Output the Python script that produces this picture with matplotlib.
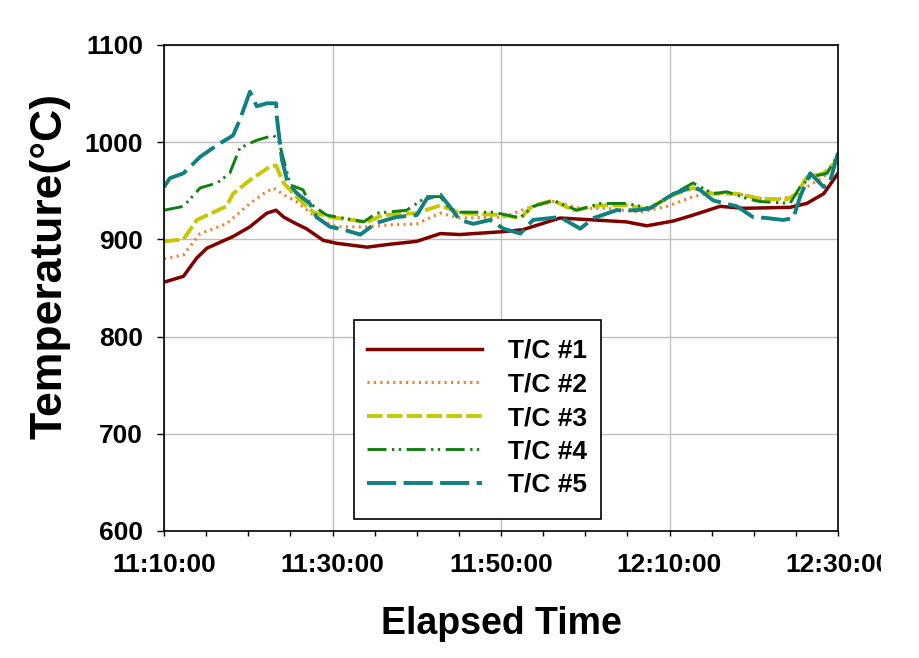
import matplotlib
matplotlib.use("Agg")
import matplotlib.pyplot as plt
from matplotlib.patches import Rectangle
from matplotlib.transforms import Bbox, TransformedBbox

# ---- data (minutes after 11:10:00, temperature in deg C) ----
t1 = [0, 2.3, 3.9, 5.1, 8.2, 10.2, 12.2, 13.3, 14.2, 15.7, 16.9, 18.9, 20.5, 24.1, 26.8, 30.0,
      32.8, 35.1, 40.3, 42.6, 47.0, 51.0, 54.9, 57.3, 60.5, 62.8, 66.0, 68.8, 74.3, 76.3, 78.3, 80.0]
v1 = [856, 862, 881, 891, 903, 913, 927, 930, 923, 916, 911, 899, 896, 892, 895, 898,
      906, 905, 908, 910, 922, 920, 918, 914, 919, 925, 934, 932, 933, 937, 947, 968]

t2 = [0, 2.3, 4.3, 7.4, 10.2, 11.8, 13.0, 14.2, 15.7, 17.3, 18.5, 20.5, 24.1, 26.8, 30.0, 32.8,
      35.1, 40.3, 43.1, 46.2, 49.4, 52.5, 56.5, 59.7, 62.8, 65.2, 68.8, 70.7, 73.1, 74.7, 76.3, 78.3, 80.0]
v2 = [880, 884, 906, 916, 937, 947, 953, 946, 939, 928, 920, 913, 913, 915, 916, 927,
      922, 923, 932, 939, 932, 932, 928, 934, 944, 948, 946, 942, 942, 944, 954, 964, 985]

t3 = [0, 2.3, 3.9, 7.4, 8.2, 10.2, 12.6, 13.3, 14.2, 15.7, 17.7, 19.7, 24.1, 26.0, 30.0, 32.8,
      35.1, 40.3, 42.3, 43.8, 46.2, 48.6, 51.8, 54.9, 57.3, 60.5, 62.8, 65.2, 68.0, 70.7, 73.9,
      75.1, 76.3, 78.3, 80.0]
v3 = [898, 900, 920, 934, 947, 961, 975, 976, 958, 944, 928, 923, 918, 925, 927, 935,
      927, 925, 922, 935, 940, 930, 935, 935, 931, 946, 953, 947, 947, 942, 941,
      947, 964, 968, 982]

t4 = [0, 2.3, 4.3, 6.3, 7.8, 9.0, 11.0, 13.0, 13.6, 14.2, 15.0, 16.5, 17.3, 19.3, 23.7, 25.2,
      28.8, 31.2, 32.8, 33.9, 35.1, 39.1, 42.3, 43.8, 46.2, 49.0, 51.8, 54.9, 57.7, 60.5, 62.8,
      65.2, 66.8, 69.2, 70.7, 74.3, 75.5, 76.7, 78.7, 80.0]
v4 = [930, 934, 953, 958, 968, 994, 1002, 1007, 1002, 982, 956, 951, 937, 925, 918, 927,
      930, 944, 944, 932, 928, 928, 922, 934, 940, 930, 937, 937, 932, 947, 958,
      947, 949, 942, 939, 937, 954, 964, 968, 987]

t5 = [0, 0.7, 2.3, 4.3, 6.3, 8.2, 9.0, 10.2, 11.0, 12.2, 13.3, 13.4, 14.0, 14.6, 15.7, 17.3,
      18.1, 19.7, 21.3, 23.3, 25.2, 27.6, 30.0, 31.2, 32.8, 33.9, 35.1, 36.7, 38.7, 40.3, 42.3,
      43.8, 47.0, 49.4, 51.0, 53.7, 56.1, 57.7, 60.5, 62.8, 63.6, 65.2, 68.0, 69.9, 71.5, 73.5,
      74.7, 75.5, 76.7, 78.3, 79.0, 80.0]
v5 = [954, 963, 968, 985, 997, 1007, 1023, 1052, 1037, 1040, 1040, 1025, 982, 961, 948, 937,
      923, 913, 910, 905, 917, 923, 925, 942, 946, 934, 920, 916, 920, 911, 906,
      920, 923, 911, 922, 930, 930, 932, 947, 954, 951, 940, 934, 923, 922, 920,
      922, 944, 968, 954, 958, 989]

series_labels = ["T/C #1", "T/C #2", "T/C #3", "T/C #4", "T/C #5"]
tick_pos = [0, 20, 40, 60, 80]
tick_labels = ["11:10:00", "11:30:00", "11:50:00", "12:10:00", "12:30:00"]
y_ticks = [600, 700, 800, 900, 1000, 1100]

FONT = "Liberation Sans"
plt.rcParams["font.family"] = [FONT, "DejaVu Sans"]
plt.rcParams["font.weight"] = "bold"

W, H = 919, 658
fig = plt.figure(figsize=(W / 100, H / 100), dpi=100)
ax = fig.add_axes([164 / W, 1 - 531 / H, (838 - 164) / W, (531 - 45) / H])

styles = [
    dict(color="#800000", lw=2.5, ls="-"),
    dict(color="#F08030", lw=2.2, dashes=(0.7, 1.4)),
    dict(color="#C8C800", lw=2.8, dashes=(4.0, 1.1)),
    dict(color="#108010", lw=2.1, dashes=(6.5, 1.9, 0.8, 1.5, 0.8, 1.9)),
    dict(color="#108080", lw=2.8, dashes=(7.5, 1.9)),
]
data = [(t1, v1), (t2, v2), (t3, v3), (t4, v4), (t5, v5)]
for (t, v), st, lab in zip(data, styles, series_labels):
    ax.plot(t, v, label=lab, **st)

ax.set_xlim(0, 80)
ax.set_ylim(600, 1100)
ax.set_xticks(tick_pos)
ax.set_xticklabels(tick_labels)
ax.set_xticks(range(0, 81, 5), minor=True)
ax.set_yticks(y_ticks)
ax.grid(True, which="major", color="#BEBEBE", lw=1)
ax.set_axisbelow(True)
for s in ax.spines.values():
    s.set_color("black")
    s.set_linewidth(1.2)

ax.tick_params(axis="x", which="both", direction="out", length=3.5, width=1,
               labelsize=19, pad=12)
ax.tick_params(axis="y", direction="out", length=5, width=1, labelsize=19, pad=10)
for lab in ax.get_xticklabels() + ax.get_yticklabels():
    lab.set_fontweight("bold")

ax.set_xlabel("Elapsed Time", fontsize=27, fontweight="bold")
ax.xaxis.set_label_coords(0.5, -0.154)
ax.set_ylabel("Temperature(°C)", fontsize=32, fontweight="bold")
ax.yaxis.set_label_coords(-0.139, 0.545)

# legend box drawn as a rectangle in figure pixels, entries without frame
box = Rectangle((354 / W, 1 - 519 / H), (601 - 354) / W, (519 - 320) / H,
                transform=fig.transFigure, facecolor="white", edgecolor="black",
                lw=1.2, zorder=5)
ax.add_artist(box)
box.set_clip_on(False)
leg = ax.legend(loc="upper left", bbox_to_anchor=(367 / W, 1 - 339 / H),
                bbox_transform=fig.transFigure, fontsize=19, frameon=False,
                handlelength=4.35, handletextpad=1.0, labelspacing=0.36,
                borderpad=0, borderaxespad=0)
leg.set_zorder(6)
for txt in leg.get_texts():
    txt.set_fontweight("bold")

# clip last tick label at the image edge as in the reference
clipbox = TransformedBbox(Bbox.from_extents(0, 0, 881 / W, 1), fig.transFigure)
last = ax.xaxis.get_major_ticks()[-1].label1
last.set_clip_box(clipbox)
last.set_clip_on(True)

fig.savefig("out.png", dpi=100)
